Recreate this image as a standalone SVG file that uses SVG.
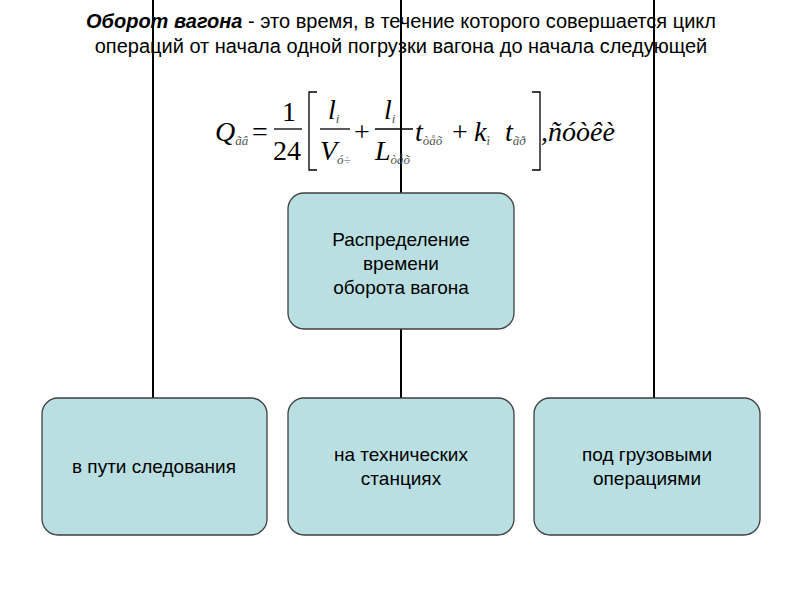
<svg xmlns="http://www.w3.org/2000/svg" width="800" height="600" viewBox="0 0 800 600">
<style>
.b{fill:#b9dfe2;stroke:#3f3f3f;stroke-width:1.3}
.t{font-family:"Liberation Sans",Arial,sans-serif;font-size:19px;fill:#000;text-anchor:middle}
.h{font-size:20px}
.f{font-family:"Liberation Serif","Times New Roman",serif;font-size:28px;fill:#000}
.fi{font-style:italic}
.s{font-size:13px;font-style:italic;fill:#555}
</style>
<rect width="800" height="600" fill="#fff"/>
<g id="connectors" stroke="#000" stroke-width="2" fill="none">
<line x1="153" y1="0" x2="153" y2="398"/>
<line x1="654" y1="0" x2="654" y2="398"/>
<line x1="401" y1="0" x2="401" y2="193"/>
<line x1="401" y1="329" x2="401" y2="398"/>
</g>
<g id="title">
<text class="t h" x="401" y="28"><tspan font-weight="bold" font-style="italic">Оборот вагона</tspan>  - это время, в течение которого совершается цикл</text>
<text class="t h" x="401" y="53">операций от начала одной погрузки вагона до начала следующей</text>
</g>
<g id="formula" class="f">
<text x="215" y="141" class="fi">Q<tspan class="s" dy="4">ãâ</tspan></text>
<text x="252" y="141">=</text>
<text x="282" y="121">1</text>
<line x1="274" y1="129" x2="302" y2="129" stroke="#000" stroke-width="1.3"/>
<text x="273" y="160">24</text>
<path d="M317 92 H309 V170 H317" stroke="#000" stroke-width="1.3" fill="none"/>
<text x="328" y="119" class="fi">l<tspan class="s" dy="4">i</tspan></text>
<line x1="320" y1="129" x2="350" y2="129" stroke="#000" stroke-width="1.3"/>
<text x="320" y="160" class="fi">V<tspan class="s" dy="4">ó÷</tspan></text>
<text x="354" y="141">+</text>
<text x="384" y="119" class="fi">l<tspan class="s" dy="4">i</tspan></text>
<line x1="375" y1="129" x2="413" y2="129" stroke="#000" stroke-width="1.3"/>
<text x="375" y="160" class="fi">L<tspan class="s" dy="4">òåõ</tspan></text>
<text x="415" y="141" class="fi">t<tspan class="s" dy="4">òåõ</tspan></text>
<text x="452" y="141">+</text>
<text x="474" y="141" class="fi">k<tspan class="s" dy="4">ì</tspan></text>
<text x="505" y="141" class="fi">t<tspan class="s" dy="4">ãð</tspan></text>
<path d="M532 92 H540 V170 H532" stroke="#000" stroke-width="1.3" fill="none"/>
<text x="541" y="141" class="fi">,ñóòêè</text>
</g>
<g id="root"><rect class="b" x="288" y="193" width="226" height="136" rx="16"/>
<text class="t" x="401" y="246">Распределение</text><text class="t" x="401" y="270">времени</text><text class="t" x="401" y="294">оборота вагона</text></g>
<g id="n1"><rect class="b" x="42" y="398" width="225" height="137" rx="16"/>
<text class="t" x="154" y="473">в пути следования</text></g>
<g id="n2"><rect class="b" x="288" y="398" width="226" height="137" rx="16"/>
<text class="t" x="401" y="461">на технических</text><text class="t" x="401" y="485">станциях</text></g>
<g id="n3"><rect class="b" x="534" y="398" width="226" height="137" rx="16"/>
<text class="t" x="647" y="461">под грузовыми</text><text class="t" x="647" y="485">операциями</text></g>
</svg>
